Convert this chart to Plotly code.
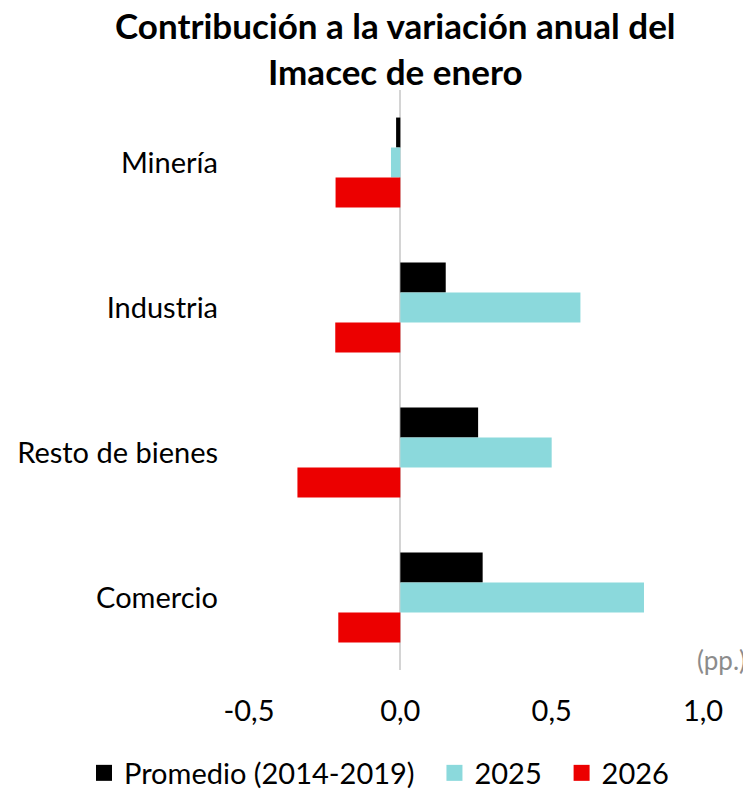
import plotly.graph_objects as go

# Data (pp.)
categories = ["Minería", "Industria", "Resto de bienes", "Comercio"]
promedio = [-0.014, 0.15, 0.257, 0.272]
v2025 = [-0.031, 0.595, 0.50, 0.805]
v2026 = [-0.214, -0.215, -0.34, -0.205]

series_names = ["Promedio (2014-2019)", "2025", "2026"]
colors = ["#000000", "#8BD9DC", "#EC0000"]

tick_vals = [-0.5, 0.0, 0.5, 1.0]
tick_text = ["-0,5", "0,0", "0,5", "1,0"]

FONT = "Lato"
# the page body adds an 8px margin, so the figure is drawn 8px smaller
W, H = 743, 781
L, R, T, B = 241, 48, 82, 119
PW, PH = W - L - R, H - T - B

fig = go.Figure()
for i, (name, vals, col) in enumerate(zip(series_names, [promedio, v2025, v2026], colors)):
    fig.add_trace(go.Bar(y=categories, x=vals, name=name, orientation="h",
                         marker=dict(color=col, line=dict(width=0)),
                         showlegend=False))
    # legend proxy with a bigger square than the default bar icon
    pad = "\u00a0\u00a0" if i < 2 else ""
    fig.add_trace(go.Scatter(x=[None], y=[None], mode="markers", name=name + pad,
                             marker=dict(color=col, symbol="square", size=16)))

fig.update_layout(
    width=W, height=H,
    barmode="group", bargap=0.38, bargroupgap=0,
    font=dict(family=FONT, size=29, color="#000000"),
    plot_bgcolor="white", paper_bgcolor="white",
    margin=dict(l=L, r=R, t=T, b=B, autoexpand=False),
    xaxis=dict(range=[-0.5, 1.0], tickvals=tick_vals, ticktext=tick_text,
               showgrid=False, zeroline=True, zerolinecolor="#d4d4d4", zerolinewidth=2,
               showline=False, ticks="", ticklabelstandoff=21, automargin=False,
               fixedrange=True),
    yaxis=dict(autorange="reversed", showgrid=False, ticks="", ticklabelstandoff=30,
               showline=False, automargin=False),
    legend=dict(orientation="h", x=(76 - L) / PW, xanchor="left",
                y=-(765 - T - PH) / PH, yanchor="middle",
                font=dict(size=29), itemwidth=30, traceorder="normal",
                bgcolor="rgba(0,0,0,0)"),
    showlegend=True,
)

fig.add_annotation(text="<b>Contribución a la variación anual del<br>Imacec de enero</b>",
                   xref="paper", x=(387 - L) / PW, xanchor="center",
                   yref="paper", y=1, yanchor="top", yshift=88, showarrow=False,
                   font=dict(family=FONT, size=35, color="#000000"))

fig.add_annotation(text="(pp.)", x=1.0, xref="paper", xanchor="right", xshift=45,
                   y=0, yref="paper", yanchor="middle", yshift=10, showarrow=False,
                   font=dict(family=FONT, size=26, color="#8c8c8c"))

fig.write_html("out.html")
